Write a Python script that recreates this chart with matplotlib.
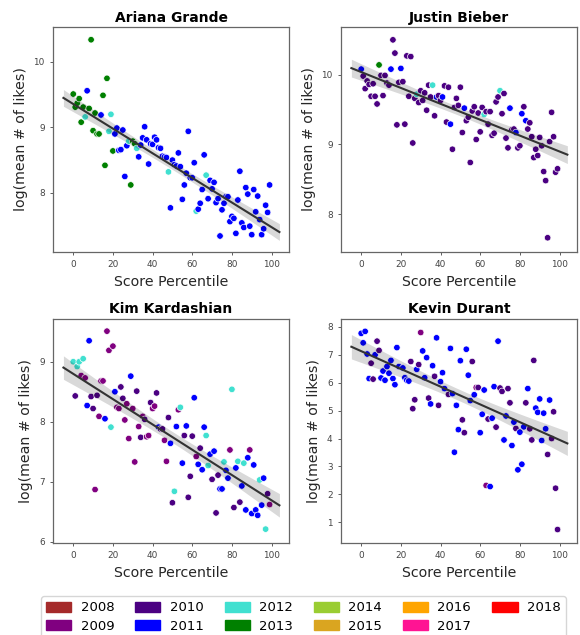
import numpy as np
import matplotlib
matplotlib.use('Agg')
import matplotlib.pyplot as plt
from matplotlib.patches import Patch
from matplotlib.ticker import MultipleLocator

years = [2008, 2009, 2010, 2011, 2012, 2013, 2014, 2015, 2016, 2017, 2018]
year_colors = ['brown', 'purple', 'indigo', 'blue', 'turquoise', 'green',
               'yellowgreen', 'goldenrod', 'orange', 'deeppink', 'red']

# Ariana Grande
ag_x = list(range(0, 100))
ag_y = [9.51, 9.31, 9.37, 9.44, 9.08, 9.31, 9.16, 9.56, 9.29, 10.34,
        8.95, 9.22, 8.90, 8.90, 9.19, 9.49, 8.42, 9.75, 8.94, 9.20,
        8.64, 8.90, 8.99, 8.65, 8.66, 8.96, 8.25, 8.72, 8.79, 8.12,
        8.79, 8.75, 8.68, 8.55, 8.73, 8.84, 9.01, 8.81, 8.44, 8.75,
        8.74, 8.85, 8.81, 8.69, 8.68, 8.56, 8.55, 8.54, 8.32, 7.77,
        8.50, 8.43, 8.41, 8.61, 8.40, 7.90, 8.12, 8.30, 8.94, 8.23,
        8.23, 8.46, 7.72, 7.75, 7.84, 8.05, 8.58, 8.27, 7.91, 8.19,
        8.06, 8.16, 7.85, 7.91, 7.34, 7.74, 7.84, 7.94, 7.94, 7.56,
        7.64, 7.61, 7.38, 7.89, 8.33, 7.54, 7.47, 8.08, 7.98, 7.49,
        7.36, 8.05, 7.71, 7.95, 7.59, 7.36, 7.45, 7.81, 7.70, 8.12]
ag_year = [2013, 2013, 2013, 2013, 2013, 2013, 2012, 2011, 2013, 2013,
           2013, 2013, 2013, 2013, 2011, 2013, 2013, 2013, 2012, 2012,
           2013, 2011, 2011, 2011, 2011, 2011, 2011, 2011, 2012, 2013,
           2013, 2013, 2012, 2011, 2011, 2011, 2011, 2011, 2011, 2011,
           2011, 2011, 2011, 2011, 2011, 2011, 2011, 2011, 2012, 2011,
           2011, 2011, 2011, 2011, 2011, 2011, 2011, 2011, 2011, 2011,
           2011, 2011, 2012, 2011, 2011, 2011, 2011, 2012, 2011, 2011,
           2011, 2011, 2011, 2011, 2011, 2011, 2011, 2011, 2011, 2011,
           2011, 2011, 2011, 2011, 2011, 2011, 2011, 2011, 2011, 2011,
           2011, 2011, 2011, 2011, 2011, 2011, 2011, 2011, 2011, 2011]

# Justin Bieber
jb_x = list(range(0, 100))
jb_y = [10.08, 9.98, 9.80, 9.91, 9.86, 9.69, 9.87, 9.69, 9.58, 10.14,
        9.99, 9.70, 9.99, 9.88, 9.85, 10.08, 10.50, 10.31, 9.28, 9.89,
        10.09, 9.90, 9.29, 10.27, 9.69, 10.26, 9.02, 9.66, 9.72, 9.60,
        9.77, 9.63, 9.74, 9.49, 9.85, 9.68, 9.85, 9.41, 9.68, 9.70,
        9.63, 9.68, 9.84, 9.32, 9.82, 9.29, 8.93, 9.53, 9.66, 9.56,
        9.82, 9.17, 9.52, 9.34, 9.39, 8.74, 9.48, 9.54, 9.07, 9.45,
        9.18, 9.53, 9.43, 9.47, 9.29, 9.47, 9.13, 9.16, 9.61, 9.68,
        9.77, 9.44, 9.73, 9.09, 8.95, 9.52, 9.21, 9.22, 9.17, 8.95,
        8.98, 9.44, 9.54, 9.34, 9.22, 9.31, 9.11, 8.81, 8.93, 8.84,
        9.10, 8.98, 8.61, 8.48, 7.66, 9.04, 9.46, 9.11, 8.60, 8.65]
jb_year = [2011, 2010, 2010, 2010, 2010, 2010, 2010, 2010, 2010, 2013,
           2010, 2010, 2010, 2010, 2010, 2011, 2010, 2010, 2010, 2010,
           2011, 2010, 2010, 2010, 2010, 2010, 2010, 2010, 2012, 2010,
           2010, 2010, 2010, 2010, 2010, 2010, 2012, 2010, 2011, 2010,
           2010, 2011, 2010, 2010, 2010, 2011, 2010, 2010, 2010, 2010,
           2010, 2010, 2011, 2010, 2010, 2010, 2010, 2010, 2010, 2010,
           2010, 2010, 2012, 2010, 2010, 2010, 2010, 2010, 2010, 2010,
           2012, 2010, 2010, 2010, 2010, 2011, 2010, 2010, 2011, 2010,
           2010, 2011, 2010, 2011, 2010, 2010, 2010, 2010, 2010, 2010,
           2010, 2010, 2010, 2010, 2010, 2010, 2010, 2010, 2010, 2010]

# Kim Kardashian
kk_x = list(range(0, 100))
kk_y = [9.00, 8.43, 8.92, 9.00, 8.77, 9.05, 8.73, 8.27, 9.35, 8.42,
        8.22, 6.87, 8.44, 8.09, 8.68, 8.68, 8.05, 9.51, 9.19, 7.91,
        9.26, 8.50, 8.24, 8.22, 8.58, 8.39, 8.03, 8.30, 7.72, 8.76,
        8.22, 7.33, 8.51, 7.92, 7.74, 8.09, 8.04, 7.75, 7.77, 8.32,
        8.22, 8.26, 8.48, 7.91, 7.88, 7.88, 7.69, 7.34, 8.07, 7.64,
        6.65, 6.84, 7.92, 8.20, 8.24, 7.31, 7.77, 7.93, 6.74, 7.09,
        7.76, 8.40, 7.42, 7.29, 7.56, 7.20, 7.91, 7.77, 7.27, 7.46,
        7.04, 7.51, 6.48, 7.11, 6.88, 6.88, 7.33, 7.19, 7.06, 7.53,
        8.54, 6.57, 7.23, 7.34, 6.66, 6.93, 7.31, 6.53, 7.40, 7.53,
        6.47, 7.28, 6.53, 6.44, 7.03, 6.61, 7.06, 6.21, 6.80, 6.62]
kk_year = [2012, 2010, 2012, 2012, 2009, 2012, 2009, 2011, 2011, 2010,
           2010, 2009, 2010, 2009, 2009, 2009, 2011, 2009, 2009, 2012,
           2009, 2011, 2009, 2009, 2010, 2010, 2009, 2009, 2009, 2011,
           2009, 2009, 2010, 2009, 2010, 2009, 2010, 2009, 2009, 2010,
           2009, 2009, 2010, 2011, 2010, 2010, 2009, 2009, 2010, 2011,
           2010, 2012, 2011, 2009, 2012, 2011, 2010, 2011, 2010, 2010,
           2010, 2011, 2009, 2011, 2010, 2011, 2011, 2012, 2012, 2011,
           2010, 2011, 2010, 2010, 2011, 2011, 2012, 2011, 2011, 2009,
           2012, 2010, 2011, 2012, 2010, 2011, 2012, 2011, 2011, 2009,
           2011, 2011, 2011, 2011, 2012, 2011, 2011, 2012, 2010, 2009]

# Kevin Durant
kd_x = [0, 1, 2, 3, 4, 5, 6, 7, 8, 9, 10, 11, 12, 13, 14, 15, 16, 17, 18, 19,
        21, 22, 23, 24, 25, 26, 27, 28, 29, 30, 31, 32, 33, 34, 35, 36, 37, 38,
        39, 40, 41, 42, 44, 45, 46, 47, 48, 49, 50, 51, 52, 53, 54, 55, 56, 57,
        58, 59, 60, 61, 62, 63, 64, 65, 66, 67, 68, 69, 70, 71, 72, 73, 74, 75,
        76, 77, 78, 79, 80, 81, 82, 83, 84, 85, 86, 87, 88, 89, 90, 91, 92, 93,
        94, 95, 96, 97, 98, 99]
kd_y = [7.77, 7.43, 7.84, 7.03, 6.15, 6.70, 6.13, 7.00, 7.49, 7.16,
        6.17, 6.42, 6.09, 6.58, 6.34, 6.80, 6.15, 5.93, 7.26, 6.58,
        6.53, 6.18, 6.09, 6.06, 6.76, 5.07, 5.39, 6.48, 6.65, 7.80,
        7.14, 6.18, 6.90, 5.45, 5.24, 6.61, 6.23, 7.61, 5.19, 6.04,
        6.36, 5.79, 5.58, 7.23, 5.61, 3.51, 5.19, 4.32, 6.79, 4.67,
        4.21, 7.20, 6.27, 5.36, 6.76, 5.57, 5.83, 5.83, 4.21, 4.87,
        5.74, 2.32, 4.70, 2.28, 4.73, 5.86, 4.41, 7.49, 5.81, 5.69,
        3.95, 4.81, 5.79, 5.28, 3.75, 4.59, 4.36, 2.88, 4.23, 3.08,
        4.42, 5.28, 5.79, 4.35, 3.95, 6.80, 5.09, 4.94, 5.42, 3.93,
        4.91, 4.35, 3.43, 5.38, 4.00, 4.96, 2.22, 0.74]
kd_year = [2011, 2011, 2011, 2011, 2011, 2010, 2010, 2011, 2010, 2010,
           2011, 2011, 2011, 2011, 2011, 2011, 2011, 2011, 2011, 2011,
           2011, 2011, 2011, 2011, 2010, 2010, 2010, 2011, 2010, 2009,
           2011, 2011, 2011, 2010, 2011, 2011, 2010, 2011, 2010, 2011,
           2011, 2011, 2010, 2011, 2011, 2011, 2011, 2011, 2011, 2010,
           2010, 2011, 2011, 2011, 2010, 2011, 2009, 2010, 2011, 2011,
           2011, 2009, 2010, 2011, 2011, 2011, 2010, 2011, 2010, 2010,
           2011, 2011, 2010, 2010, 2011, 2011, 2010, 2011, 2011, 2011,
           2011, 2010, 2011, 2010, 2010, 2010, 2011, 2011, 2011, 2011,
           2011, 2011, 2010, 2011, 2010, 2010, 2010, 2010]

panels = [
    ('Ariana Grande', ag_x, ag_y, ag_year, (7.10, 10.53)),
    ('Justin Bieber', jb_x, jb_y, jb_year, (7.46, 10.68)),
    ('Kim Kardashian', kk_x, kk_y, kk_year, (5.98, 9.72)),
    ('Kevin Durant', kd_x, kd_y, kd_year, (0.26, 8.30)),
]

color_of = dict(zip(years, year_colors))

fig, axes = plt.subplots(2, 2, figsize=(5.8, 6.35), dpi=100)
plt.subplots_adjust(left=0.0914, right=0.9948, top=0.957, bottom=0.145,
                    wspace=0.22, hspace=0.298)

for ax, (name, x, y, yr, ylim) in zip(axes.flat, panels):
    x = np.array(x, dtype=float)
    y = np.array(y, dtype=float)
    cols = [color_of[v] for v in yr]
    ax.scatter(x, y, c=cols, s=22, edgecolors='white', linewidths=0.5, zorder=2)

    # linear fit + 95% ci band
    n = len(x)
    b1, b0 = np.polyfit(x, y, 1)
    span = x.max() - x.min()
    grid = np.linspace(x.min() - 0.05 * span, x.max() + 0.05 * span, 100)
    pred = b0 + b1 * grid
    resid = y - (b0 + b1 * x)
    s = np.sqrt(np.sum(resid ** 2) / (n - 2))
    sxx = np.sum((x - x.mean()) ** 2)
    se = s * np.sqrt(1.0 / n + (grid - x.mean()) ** 2 / sxx)
    ax.fill_between(grid, pred - 1.984 * se, pred + 1.984 * se,
                    color='black', alpha=0.15, linewidth=0, zorder=3)
    ax.plot(grid, pred, color='#333333', lw=1.5, zorder=4)

    ax.set_xlim(-10.2, 108.8)
    ax.set_ylim(*ylim)
    ax.xaxis.set_major_locator(MultipleLocator(20))
    ax.yaxis.set_major_locator(MultipleLocator(1))
    ax.tick_params(labelsize=6.4, colors='#444444', length=2.5, width=0.6)
    for sp in ax.spines.values():
        sp.set_color('#666666')
        sp.set_linewidth(0.9)
    ax.set_title(name, fontsize=10, fontweight='bold', pad=4)
    ax.set_xlabel('Score Percentile', fontsize=10.2, color='#262626')
    ax.set_ylabel('log(mean # of likes)', fontsize=10.2, color='#262626')

handles = [Patch(facecolor=c, edgecolor=c) for c in year_colors]
fig.legend(handles, [str(v) for v in years], ncol=6, loc='upper left',
           bbox_to_anchor=(41 / 580, 1 - 596 / 635), fontsize=9.5,
           handlelength=1.9, handleheight=0.75, handletextpad=0.7,
           columnspacing=1.6, labelspacing=0.4, frameon=True,
           borderaxespad=0, fancybox=True)

plt.savefig('out.png', dpi=100)
